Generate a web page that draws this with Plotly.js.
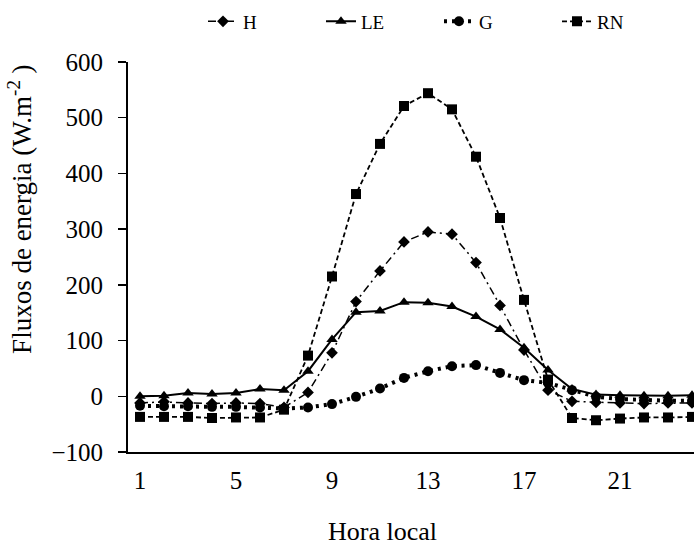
<!DOCTYPE html>
<html>
<head>
<meta charset="utf-8">
<script src="https://cdn.plot.ly/plotly-3.0.1.min.js"></script>
<style>html,body{margin:0;padding:0;background:#fff;overflow:hidden}</style>
</head>
<body>
<div id="chart" style="width:694px;height:545px"></div>
<script>
const hours = [1,2,3,4,5,6,7,8,9,10,11,12,13,14,15,16,17,18,19,20,21,22,23,24];
const H  = [-12,-10,-12,-13,-12,-13,-20,7,78,170,225,277,295,291,240,163,83,11,-9,-11,-12,-13,-12,-12];
const LE = [0,1,6,4,6,13,11,45,102,151,153,169,168,161,143,120,87,47,13,3,2,1,1,2];
const G  = [-17,-18,-18,-19,-19,-20,-22,-20,-14,-1,14,33,45,54,56,42,29,24,11,-1,-5,-7,-8,-8];
const RN = [-37,-37,-37,-39,-38,-38,-24,73,215,363,453,521,544,515,430,320,173,30,-39,-43,-40,-38,-38,-37];
const xTicks = [1,5,9,13,17,21];
const yTicks = [-100,0,100,200,300,400,500,600];
const xTitle = 'Hora local';
const yTitle = 'Fluxos de energia (W.m<sup>-2</sup> )';

const FONT = '"Liberation Serif", "Times New Roman", serif';
const traces = [
  {x: hours, y: H, name: 'H', mode: 'lines+markers', cliponaxis: false,
   line: {color: '#000', width: 1.5, dash: '8px,4px,2px,4px'},
   marker: {symbol: 'diamond', size: 9, color: '#000'}},
  {x: hours, y: LE, name: 'LE', mode: 'lines+markers', cliponaxis: false,
   line: {color: '#000', width: 2}, marker: {symbol: 'triangle-up', size: 10, color: '#000'}},
  {x: hours, y: G, name: 'G', mode: 'lines+markers', cliponaxis: false,
   line: {color: '#000', width: 4, dash: '3px,5px'}, marker: {symbol: 'circle', size: 10, color: '#000'}},
  {x: hours, y: RN, name: 'RN', mode: 'lines+markers', cliponaxis: false,
   line: {color: '#000', width: 1.8, dash: '5px,3px'}, marker: {symbol: 'square', size: 10, color: '#000'}}
];
const layout = {
  width: 694, height: 545,
  margin: {l: 128, r: 0, t: 62, b: 93},
  paper_bgcolor: '#fff', plot_bgcolor: '#fff',
  font: {family: FONT, color: '#000', size: 25},
  showlegend: true,
  legend: {orientation: 'h', x: 0.1325, xanchor: 'left', y: 1.104, yanchor: 'middle',
           font: {family: FONT, size: 19, color: '#000'}, entrywidth: 73, entrywidthmode: 'pixels',
           bgcolor: 'rgba(0,0,0,0)'},
  xaxis: {range: [0.5, 24.083], tickvals: xTicks, ticktext: xTicks.map(String), ticks: '',
          showline: true, linecolor: '#000', linewidth: 2, showgrid: false, zeroline: false,
          tickfont: {family: FONT, size: 25, color: '#000'}, ticklabelstandoff: 5},
  yaxis: {range: [-100, 600], tickvals: yTicks, ticks: 'outside', ticklen: 8, tickwidth: 1.5, tickcolor: '#000',
          showline: true, linecolor: '#000', linewidth: 2, showgrid: false, zeroline: false,
          tickfont: {family: FONT, size: 25, color: '#000'}, ticklabelstandoff: 10},
  annotations: [
    {text: xTitle, xref: 'paper', yref: 'paper', x: 0.4505, y: -0.205, xanchor: 'center', yanchor: 'middle',
     showarrow: false, font: {family: FONT, size: 26, color: '#000'}},
    {text: yTitle, xref: 'paper', yref: 'paper', x: -0.19, y: 0.622, xanchor: 'center', yanchor: 'middle',
     textangle: -90, showarrow: false, font: {family: FONT, size: 27, color: '#000'}}
  ]
};
Plotly.newPlot('chart', traces, layout, {staticPlot: true, displayModeBar: false});
</script>
</body>
</html>
